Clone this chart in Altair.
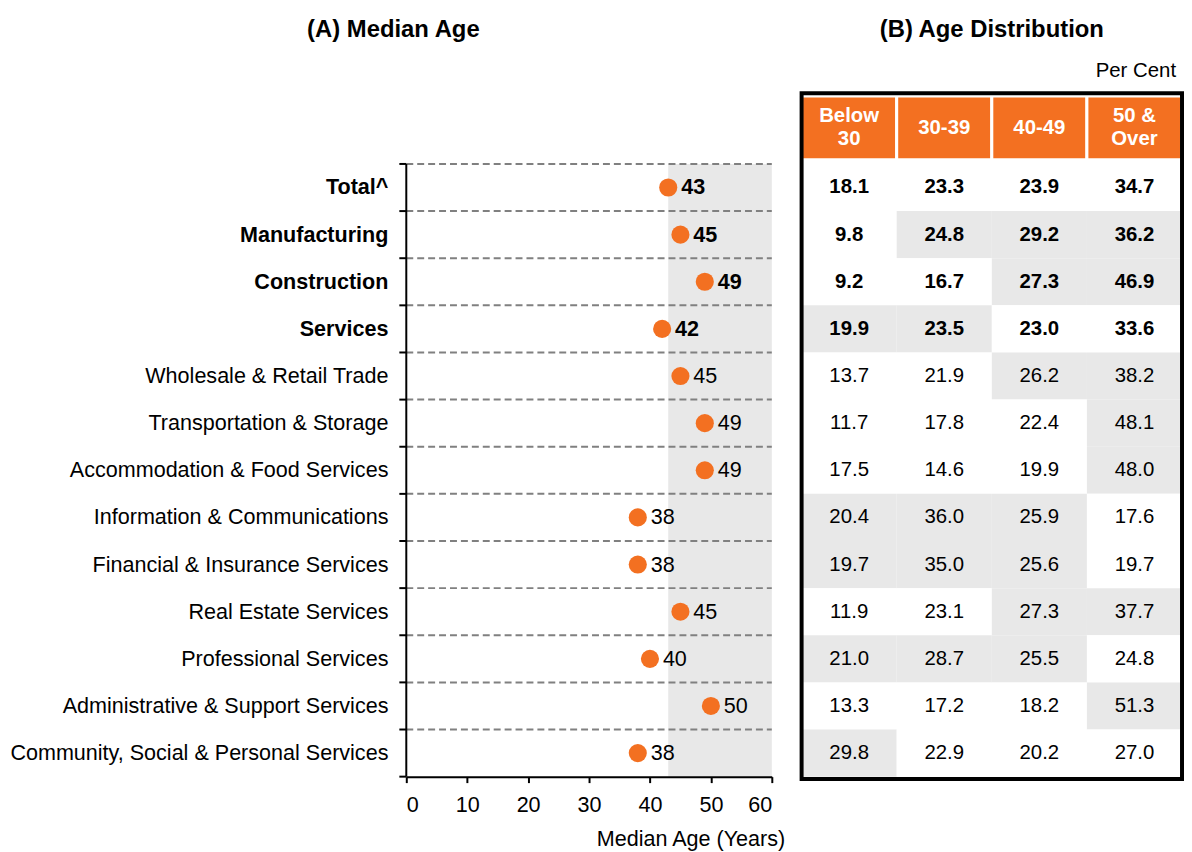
import altair as alt
import pandas as pd

# ---------------- data ----------------
industries = [
    "Total^", "Manufacturing", "Construction", "Services",
    "Wholesale & Retail Trade", "Transportation & Storage",
    "Accommodation & Food Services", "Information & Communications",
    "Financial & Insurance Services", "Real Estate Services",
    "Professional Services", "Administrative & Support Services",
    "Community, Social & Personal Services",
]
median_age = [43, 45, 49, 42, 45, 49, 49, 38, 38, 45, 40, 50, 38]
bold_rows = ["Total^", "Manufacturing", "Construction", "Services"]

age_groups = ["Below\n30", "30-39", "40-49", "50 &\nOver"]
below30 = [18.1, 9.8, 9.2, 19.9, 13.7, 11.7, 17.5, 20.4, 19.7, 11.9, 21.0, 13.3, 29.8]
age30_39 = [23.3, 24.8, 16.7, 23.5, 21.9, 17.8, 14.6, 36.0, 35.0, 23.1, 28.7, 17.2, 22.9]
age40_49 = [23.9, 29.2, 27.3, 23.0, 26.2, 22.4, 19.9, 25.9, 25.6, 27.3, 25.5, 18.2, 20.2]
age50_over = [34.7, 36.2, 46.9, 33.6, 38.2, 48.1, 48.0, 17.6, 19.7, 37.7, 24.8, 51.3, 27.0]

x_ticks = [0, 10, 20, 30, 40, 50, 60]

FONT = "Liberation Sans"
ORANGE = "#F37021"
SHADE = "#E8E8E8"
LBL = 21.7
N = len(industries)
VIEW_H = 726
ROWPX = VIEW_H / (N + 2.3)

# shared row scale (rows 0..N, header area above 0)
by = alt.Scale(domain=[-2.3, N], reverse=True, nice=False, zero=False)

# ---------------- panel A ----------------
med_df = pd.DataFrame({
    "industry": industries,
    "age": median_age,
    "rowc": [i + 0.5 for i in range(N)],
    "x0": [x_ticks[0]] * N,
    "label": [str(v) for v in median_age],
    "bold": ["yes" if i in bold_rows else "no" for i in industries],
})
shade_df = pd.DataFrame({"x": [median_age[0]], "x2": [x_ticks[-1]], "y": [0], "y2": [N]})
grid_df = pd.DataFrame({"k": list(range(N)), "x": [x_ticks[0]] * N, "x2": [x_ticks[-1]] * N})
tick_df = pd.DataFrame({"k": list(range(N + 1))})
dom_df = pd.DataFrame({"y": [0], "y2": [N]})

xscale = alt.Scale(domain=[x_ticks[0], x_ticks[-1]], nice=False)

x_axis = alt.Axis(
    values=x_ticks, title="Median Age (Years)", grid=False,
    domainColor="black", domainWidth=2, tickColor="black", tickWidth=2,
    tickSize=6, labelFont=FONT, labelFontSize=LBL, labelColor="black",
    labelPadding=12, titleFont=FONT, titleFontSize=LBL, titleFontWeight="normal",
    titleColor="black", titleAlign="right", titleAnchor="end", titleX=381,
    titlePadding=13, zindex=1,
)

shade = alt.Chart(shade_df).mark_rect(color=SHADE).encode(
    x=alt.X("x:Q", scale=xscale, axis=x_axis), x2="x2:Q",
    y=alt.Y("y:Q", scale=by, axis=None), y2="y2:Q",
)
grid = alt.Chart(grid_df).mark_rule(color="#808080", strokeWidth=2, strokeDash=[7, 4]).encode(
    x=alt.X("x:Q", scale=xscale), x2="x2:Q", y=alt.Y("k:Q", scale=by)
)
yticks = alt.Chart(tick_df).mark_rule(color="black", strokeWidth=2).encode(
    x=alt.value(-7), x2=alt.value(0), y=alt.Y("k:Q", scale=by)
)
ydomain = alt.Chart(dom_df).mark_rule(color="black", strokeWidth=2).encode(
    x=alt.value(0), y=alt.Y("y:Q", scale=by), y2="y2:Q"
)
dots = alt.Chart(med_df).mark_circle(size=333, color=ORANGE, opacity=1).encode(
    x=alt.X("age:Q", scale=xscale), y=alt.Y("rowc:Q", scale=by)
)


def val_labels(flag, weight):
    return alt.Chart(med_df).transform_filter(f"datum.bold == '{flag}'").mark_text(
        align="left", baseline="middle", dx=13, font=FONT, fontSize=LBL,
        fontWeight=weight, color="black"
    ).encode(x=alt.X("age:Q", scale=xscale), y=alt.Y("rowc:Q", scale=by), text="label:N")


def cat_labels(flag, weight):
    return alt.Chart(med_df).transform_filter(f"datum.bold == '{flag}'").mark_text(
        align="right", baseline="middle", dx=-18, font=FONT, fontSize=LBL,
        fontWeight=weight, color="black"
    ).encode(x=alt.X("x0:Q", scale=xscale), y=alt.Y("rowc:Q", scale=by), text="industry:N")


left = alt.layer(
    shade, grid, yticks, ydomain, dots,
    val_labels("yes", "bold"), val_labels("no", "normal"),
    cat_labels("yes", "bold"), cat_labels("no", "normal"),
).properties(
    width=368, height=VIEW_H,
    title=alt.TitleParams("(A) Median Age", font=FONT, fontSize=24,
                          fontWeight="bold", color="black", anchor="middle",
                          offset=14, dx=-197),
)

# ---------------- panel B ----------------
cols = [below30, age30_39, age40_49, age50_over]
cells = []
for i, ind in enumerate(industries):
    for j, series in enumerate(cols):
        v = series[i]
        cells.append({
            "row": i, "row2": i + 1, "rowc": i + 0.5,
            "col": j, "col2": j + 1, "colc": j + 0.5,
            "text": f"{v:.1f}",
            "hl": "yes" if (i > 0 and v > series[0]) else "no",
            "bold": "yes" if ind in bold_rows else "no",
        })
cell_df = pd.DataFrame(cells)
HEAD_LH = 23
head_df = pd.DataFrame({
    "label": age_groups,
    "col": list(range(4)), "col2": [c + 1 for c in range(4)],
    "colc": [c + 0.5 for c in range(4)],
    "y": [-1.44] * 4, "y2": [-0.09] * 4,
    "yc": [-0.77 - (g.count("\n") * HEAD_LH / 2) / ROWPX for g in age_groups],
})
border_df = pd.DataFrame({"x": [0], "x2": [4], "y": [-1.5], "y2": [N + 0.05]})
note_df = pd.DataFrame({"x": [4], "y": [-1.97], "t": ["Per Cent"]})

bx = alt.Scale(domain=[0, 4], nice=False, zero=False)

cell_rect = alt.Chart(cell_df).mark_rect().encode(
    x=alt.X("col:Q", scale=bx, axis=None), x2="col2:Q",
    y=alt.Y("row:Q", scale=by, axis=None), y2="row2:Q",
    color=alt.Color("hl:N", scale=alt.Scale(domain=["yes", "no"], range=[SHADE, "white"]), legend=None),
)


def cell_text(flag, weight):
    return alt.Chart(cell_df).transform_filter(f"datum.bold == '{flag}'").mark_text(
        font=FONT, fontSize=20.5, fontWeight=weight, color="black", baseline="middle"
    ).encode(x=alt.X("colc:Q", scale=bx), y=alt.Y("rowc:Q", scale=by), text="text:N")


head_rect = alt.Chart(head_df).mark_rect(color=ORANGE, stroke="white", strokeWidth=3).encode(
    x=alt.X("col:Q", scale=bx), x2="col2:Q", y=alt.Y("y:Q", scale=by), y2="y2:Q"
)
head_txt = alt.Chart(head_df).mark_text(
    font=FONT, fontSize=20.5, fontWeight="bold", color="white",
    baseline="middle", lineBreak="\n", lineHeight=HEAD_LH
).encode(x=alt.X("colc:Q", scale=bx), y=alt.Y("yc:Q", scale=by), text="label:N")
border = alt.Chart(border_df).mark_rect(fill="transparent", stroke="black", strokeWidth=4).encode(
    x=alt.X("x:Q", scale=bx), x2="x2:Q", y=alt.Y("y:Q", scale=by), y2="y2:Q"
)
note = alt.Chart(note_df).mark_text(
    font=FONT, fontSize=20.5, color="black", align="right", baseline="middle", dx=-6
).encode(x=alt.X("x:Q", scale=bx), y=alt.Y("y:Q", scale=by), text="t:N")

right = alt.layer(
    cell_rect, cell_text("yes", "bold"), cell_text("no", "normal"),
    head_rect, head_txt, border, note,
).properties(
    width=383, height=VIEW_H,
    title=alt.TitleParams("(B) Age Distribution", font=FONT, fontSize=24,
                          fontWeight="bold", color="black", anchor="middle",
                          offset=14),
)

chart = alt.hconcat(left, right, spacing=15).properties(
    padding={"left": 2, "top": 7, "right": 0, "bottom": 0}
).configure(font=FONT).configure_view(stroke="transparent", strokeWidth=0)

chart.save("out.html", embed_options={"renderer": "svg", "actions": False})
